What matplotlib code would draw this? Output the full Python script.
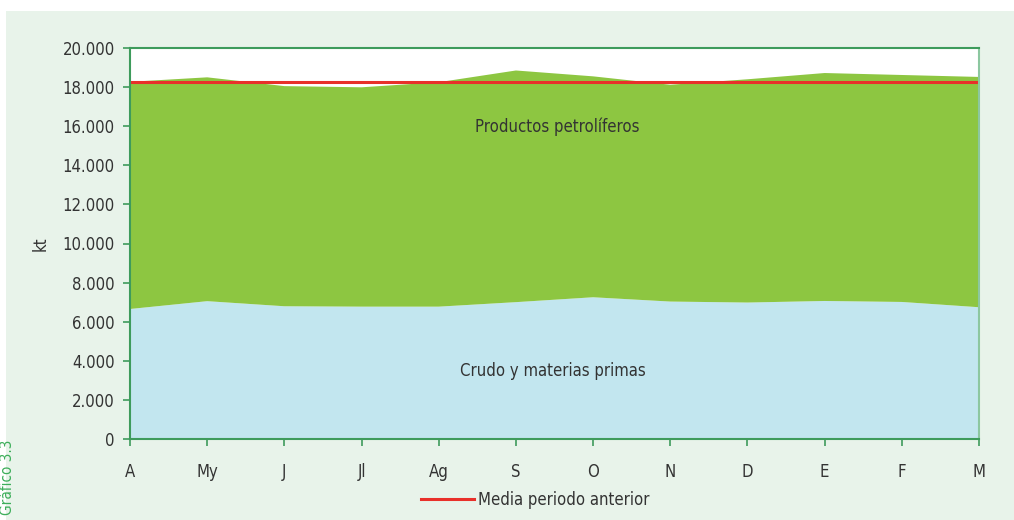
import matplotlib.pyplot as plt
from matplotlib.lines import Line2D

months = ["A", "My", "J", "Jl", "Ag", "S", "O", "N", "D", "E", "F", "M"]
crudo = [6650, 7050, 6790, 6770, 6770, 7000, 7250, 7030, 6980, 7060, 7010, 6740]
total = [18270, 18500, 18050, 17990, 18250, 18850, 18550, 18120, 18400, 18720, 18620, 18520]
productos = [t - c for t, c in zip(total, crudo)]
media_anterior = 18260

yticks = list(range(0, 20001, 2000))
ytick_labels = ["0"] + [f"{v // 1000}.000" for v in yticks[1:]]

plt.rcParams["font.family"] = ["DejaVu Sans"]
plt.rcParams["font.stretch"] = "condensed"
TEXT = "#333333"
GREEN = "#3E9B5C"
FS = 12

fig = plt.figure(figsize=(10.14, 5.2), dpi=100, facecolor="white")
# light green panel behind the chart
fig.patches.append(
    plt.Rectangle((6 / 1014, 0), 1.0, 1 - 11 / 520, transform=fig.transFigure,
                  facecolor="#E8F3EA", edgecolor="none", zorder=-10)
)
ax = fig.add_axes([130 / 1014, 1 - 439 / 520, (979 - 130) / 1014, (439 - 48) / 520])
ax.set_facecolor("white")

x = list(range(len(months)))
ax.stackplot(x, crudo, productos, colors=["#C2E6EF", "#8DC641"], linewidth=0)
ax.axhline(media_anterior, color="#E8302A", lw=2.2, zorder=5)

ax.set_xlim(0, len(months) - 1)
ax.set_ylim(0, 20000)
ax.set_xticks(x)
ax.set_xticklabels(months)
ax.set_yticks(yticks)
ax.set_yticklabels(ytick_labels)
ax.tick_params(axis="both", colors=GREEN, labelcolor=TEXT, labelsize=FS, length=5, width=1.2)
ax.tick_params(axis="x", pad=12)
ax.tick_params(axis="y", pad=6)
for side, sp in ax.spines.items():
    sp.set_color(GREEN if side != "right" else "#8CC7A0")
    sp.set_linewidth(1.5)
    sp.set_zorder(6)

ax.set_ylabel("kt", color=TEXT, fontsize=FS, labelpad=9)

ax.text(5.53, 15960, "Productos petrolíferos", ha="center", va="center", color=TEXT, fontsize=FS)
ax.text(5.48, 3480, "Crudo y materias primas", ha="center", va="center", color=TEXT, fontsize=FS)

handle = Line2D([], [], color="#E8302A", lw=2.2)
fig.legend([handle], ["Media periodo anterior"], loc="center", bbox_to_anchor=(535 / 1014, 1 - 500 / 520),
           frameon=False, fontsize=FS, labelcolor=TEXT, handlelength=3.2, handletextpad=0.2)

fig.text(8 / 1014, 1 - 440 / 520, "Gráfico 3.3", rotation=90, ha="center", va="top",
         color="#3DAE5A", fontsize=11)

fig.savefig("out.png", dpi=100)
